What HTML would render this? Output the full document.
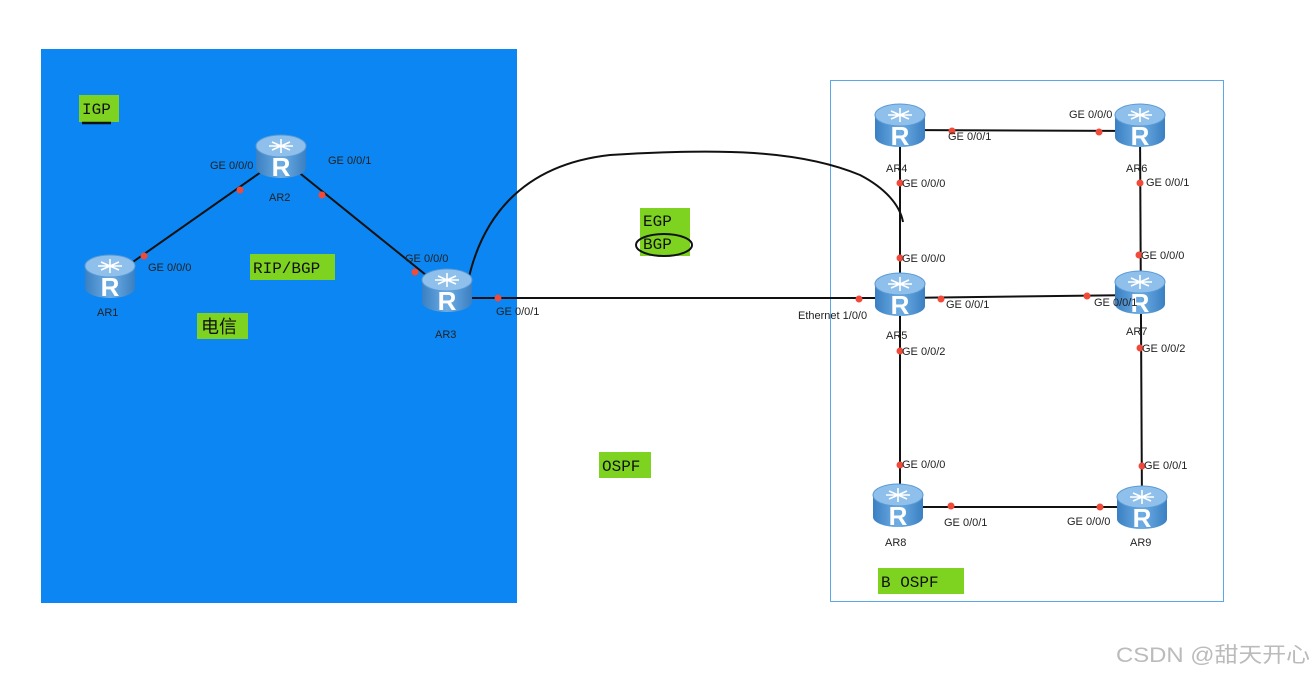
<!DOCTYPE html>
<html><head><meta charset="utf-8"><style>
body{margin:0;width:1316px;height:675px;background:#fff;overflow:hidden;font-family:"Liberation Sans","Noto Sans CJK SC",sans-serif}
svg{position:absolute;left:0;top:0}
</style></head><body>
<svg width="1316" height="675" viewBox="0 0 1316 675" font-family="Liberation Sans, Noto Sans CJK SC, sans-serif">
<defs>
<linearGradient id="rg" x1="0" x2="1"><stop offset="0" stop-color="#3a7fc2"/><stop offset="0.5" stop-color="#6eaee4"/><stop offset="1" stop-color="#3a7fc2"/></linearGradient>
<g id="r">
<path d="M-25,-10 L-25,12 A25,10 0 0 0 25,12 L25,-10 Z" fill="url(#rg)"/>
<ellipse cx="0" cy="-10" rx="25" ry="11" fill="#8fc0ec" stroke="#5a9ad6"/>
<text x="0" y="20" font-size="26" fill="#fff" text-anchor="middle" font-weight="bold">R</text>
<path d="M-9,-14 L9,-6 M-9,-6 L9,-14 M-12,-10 L12,-10 M0,-17 L0,-3" stroke="#fff" stroke-width="1.6"/>
</g>
</defs>
<rect x="41" y="49" width="476" height="554" fill="#0b86f2"/>
<rect x="830.5" y="80.5" width="393" height="521" fill="none" stroke="#5aa8e8"/>
<g stroke="#111" stroke-width="2" fill="none">
<line x1="110" y1="278" x2="281" y2="158"/>
<line x1="281" y1="158" x2="447" y2="292"/>
<line x1="447" y1="298" x2="900" y2="298"/>
<line x1="900" y1="130" x2="1140" y2="131"/>
<line x1="900" y1="130" x2="900" y2="507"/>
<line x1="900" y1="298" x2="1140" y2="295"/>
<line x1="1140" y1="131" x2="1142" y2="509"/>
<line x1="898" y1="507" x2="1142" y2="507"/>
<path d="M467,286 C480,220 520,165 610,155 C720,148 800,150 860,175 C885,188 900,205 903,222" stroke-width="2"/>
</g>
<use href="#r" x="110" y="276"/><use href="#r" x="281" y="156"/><use href="#r" x="447" y="290"/>
<use href="#r" x="900" y="125"/><use href="#r" x="1140" y="125"/><use href="#r" x="900" y="294"/>
<use href="#r" x="1140" y="292"/><use href="#r" x="898" y="505"/><use href="#r" x="1142" y="507"/>
<g fill="#f04a3a">
<circle cx="144" cy="256" r="3.5"/><circle cx="240" cy="190" r="3.5"/><circle cx="322" cy="195" r="3.5"/><circle cx="415" cy="272" r="3.5"/><circle cx="498" cy="298" r="3.5"/>
<circle cx="859" cy="299" r="3.5"/><circle cx="941" cy="299" r="3.5"/><circle cx="1087" cy="296" r="3.5"/>
<circle cx="952" cy="131" r="3.5"/><circle cx="1099" cy="132" r="3.5"/><circle cx="900" cy="183" r="3.5"/><circle cx="1140" cy="183" r="3.5"/>
<circle cx="900" cy="258" r="3.5"/><circle cx="1139" cy="255" r="3.5"/><circle cx="900" cy="351" r="3.5"/><circle cx="1140" cy="348" r="3.5"/>
<circle cx="900" cy="465" r="3.5"/><circle cx="1142" cy="466" r="3.5"/><circle cx="951" cy="506" r="3.5"/><circle cx="1100" cy="507" r="3.5"/>
</g>
<g font-size="11" fill="#222">
<text x="210" y="169">GE 0/0/0</text><text x="328" y="164">GE 0/0/1</text><text x="148" y="271">GE 0/0/0</text><text x="405" y="262">GE 0/0/0</text>
<text x="496" y="315">GE 0/0/1</text>
<text x="269" y="201">AR2</text><text x="97" y="316">AR1</text><text x="435" y="338">AR3</text>
<text x="798" y="319">Ethernet 1/0/0</text>
<text x="948" y="140">GE 0/0/1</text><text x="1069" y="118">GE 0/0/0</text><text x="902" y="187">GE 0/0/0</text><text x="1146" y="186">GE 0/0/1</text>
<text x="902" y="262">GE 0/0/0</text><text x="1141" y="259">GE 0/0/0</text><text x="946" y="308">GE 0/0/1</text><text x="1094" y="306">GE 0/0/1</text>
<text x="902" y="355">GE 0/0/2</text><text x="1142" y="352">GE 0/0/2</text><text x="902" y="468">GE 0/0/0</text><text x="1144" y="469">GE 0/0/1</text>
<text x="944" y="526">GE 0/0/1</text><text x="1067" y="525">GE 0/0/0</text>
<text x="886" y="172">AR4</text><text x="1126" y="172">AR6</text><text x="886" y="339">AR5</text><text x="1126" y="335">AR7</text>
<text x="885" y="546">AR8</text><text x="1130" y="546">AR9</text>
</g>
<g fill="#7ed321">
<rect x="79" y="95" width="40" height="27"/><rect x="250" y="254" width="85" height="26"/><rect x="197" y="313" width="51" height="26"/>
<rect x="640" y="208" width="50" height="48"/><rect x="599" y="452" width="52" height="26"/><rect x="878" y="568" width="86" height="26"/>
</g>
<ellipse cx="664" cy="245" rx="28" ry="11" fill="none" stroke="#111" stroke-width="2"/>
<g font-family="Liberation Mono, Noto Sans CJK SC, monospace" font-size="16" fill="#111">
<text x="82" y="114">IGP</text><text x="253" y="273">RIP/BGP</text><text x="201" y="333" font-family="Noto Sans CJK SC, sans-serif" font-size="18">电信</text>
<text x="643" y="226">EGP</text><text x="643" y="249">BGP</text><text x="602" y="471">OSPF</text><text x="881" y="587">B  OSPF</text>
</g>
<line x1="82" y1="123" x2="111" y2="123" stroke="#111" stroke-width="2.5"/>
<text x="1116" y="662" font-size="21" fill="#bbb" textLength="194" lengthAdjust="spacingAndGlyphs" font-family="Liberation Sans, Noto Sans CJK SC, sans-serif">CSDN @甜天开心</text>
</svg>
</body></html>
